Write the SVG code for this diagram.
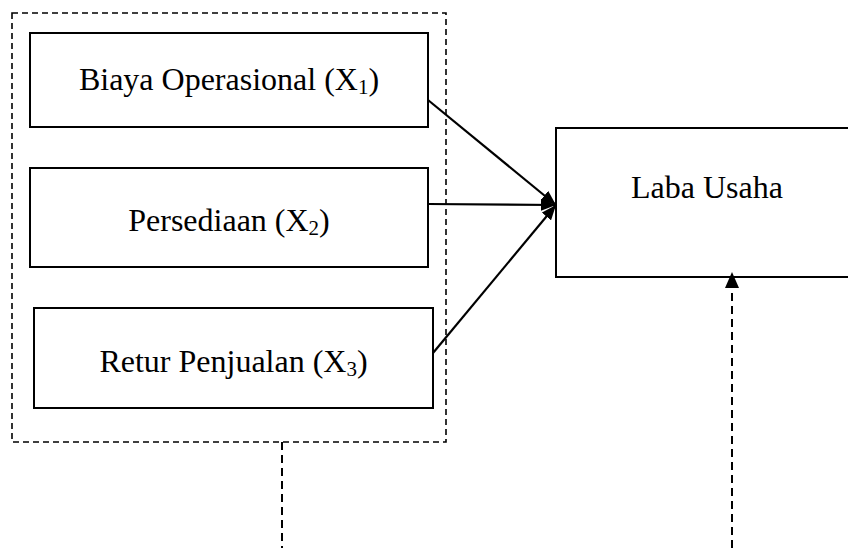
<svg xmlns="http://www.w3.org/2000/svg" width="848" height="548" viewBox="0 0 848 548">
<style>
.box{fill:#fff;stroke:#000;stroke-width:2}
.grp{fill:none;stroke:#000;stroke-width:1.6;stroke-dasharray:6,4}
.lbl{font-family:"Liberation Serif","Times New Roman",serif;font-size:32px;fill:#000;text-anchor:middle}
.sub{font-size:21px}
.arr{fill:none;stroke:#000;stroke-width:2.2;marker-end:url(#ah)}
.dash{fill:none;stroke:#000;stroke-width:2;stroke-dasharray:8,5}
</style>
<defs>
<marker id="ah" markerUnits="userSpaceOnUse" markerWidth="16" markerHeight="12" refX="15" refY="6" orient="auto">
<path d="M0,0 L15,6 L0,12 Z" fill="#000"/>
</marker>
</defs>
<rect id="group" class="grp" x="12" y="13" width="434" height="429"/>
<g id="n1"><rect class="box" x="30" y="33" width="398" height="94"/><text class="lbl" x="229" y="90">Biaya Operasional (X<tspan class="sub" dy="4">1</tspan><tspan dy="-4">)</tspan></text></g>
<g id="n2"><rect class="box" x="30" y="168" width="398" height="99"/><text class="lbl" x="229" y="231">Persediaan (X<tspan class="sub" dy="4">2</tspan><tspan dy="-4">)</tspan></text></g>
<g id="n3"><rect class="box" x="34" y="308" width="399" height="100"/><text class="lbl" x="233.5" y="372">Retur Penjualan (X<tspan class="sub" dy="4">3</tspan><tspan dy="-4">)</tspan></text></g>
<g id="n4"><rect class="box" x="556" y="128" width="310" height="149"/><text class="lbl" x="707" y="198">Laba Usaha</text></g>
<g id="connectors">
<line class="arr" x1="428" y1="100" x2="556" y2="205"/>
<line class="arr" x1="428" y1="204" x2="556" y2="205"/>
<line class="arr" x1="433" y1="353" x2="556" y2="205"/>
<line class="dash" x1="282" y1="442" x2="282" y2="548"/>
<line class="dash" x1="732" y1="548" x2="732" y2="288"/>
<path d="M725,288 L732,272 L739,288 Z" fill="#000"/>
</g>
</svg>
